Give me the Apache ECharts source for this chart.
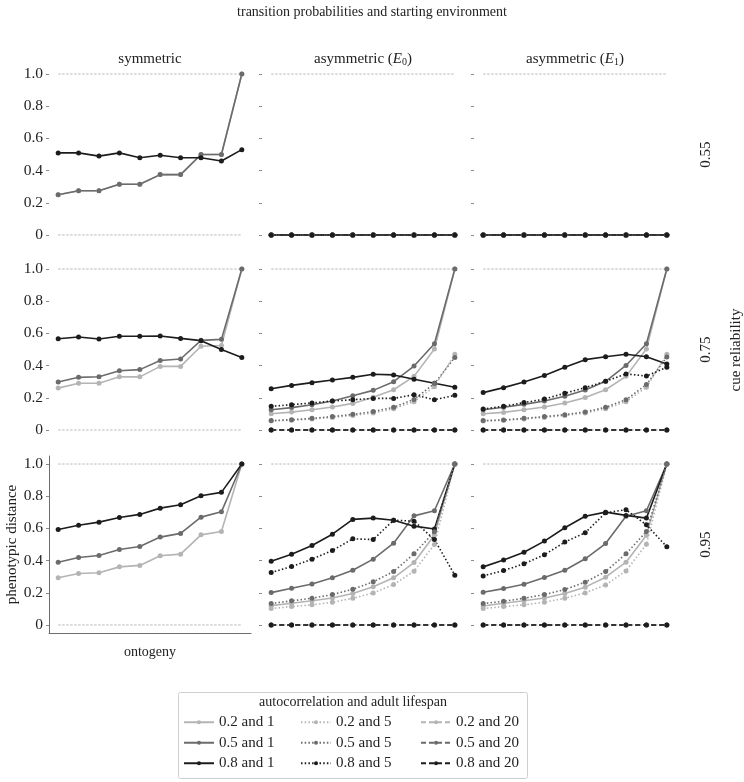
<!DOCTYPE html>
<html><head><meta charset="utf-8">
<script src="https://cdn.jsdelivr.net/npm/echarts@6/dist/echarts.min.js"></script>
<style>html,body{margin:0;padding:0;background:#fff}#c{width:744px;height:782px}</style>
</head><body><div id="c"></div>
<script>
// ---------- data ----------
const ontogeny = [1, 2, 3, 4, 5, 6, 7, 8, 9, 10];
const yTicks = [0, 0.2, 0.4, 0.6, 0.8, 1.0];
const refLevels = [0, 1];
const cueReliability = ['0.55', '0.75', '0.95'];
const autocorrelation = ['0.2', '0.5', '0.8'];
const lifespan = ['1', '5', '20'];
const zeros = [0, 0, 0, 0, 0, 0, 0, 0, 0, 0];

// symmetric
const sym55_a02_l1 = [0.25, 0.275, 0.275, 0.315, 0.315, 0.375, 0.375, 0.50, 0.50, 1.0];
const sym55_a05_l1 = [0.25, 0.275, 0.275, 0.315, 0.315, 0.375, 0.375, 0.50, 0.50, 1.0];
const sym55_a08_l1 = [0.51, 0.51, 0.49, 0.51, 0.48, 0.495, 0.48, 0.48, 0.46, 0.53];
const sym75_a02_l1 = [0.26, 0.29, 0.29, 0.33, 0.33, 0.395, 0.395, 0.52, 0.525, 1.0];
const sym75_a05_l1 = [0.298, 0.327, 0.331, 0.368, 0.375, 0.432, 0.441, 0.557, 0.563, 1.0];
const sym75_a08_l1 = [0.567, 0.578, 0.565, 0.582, 0.582, 0.584, 0.569, 0.555, 0.50, 0.45];
const sym95_a02_l1 = [0.293, 0.32, 0.324, 0.361, 0.37, 0.43, 0.44, 0.56, 0.581, 1.0];
const sym95_a05_l1 = [0.39, 0.419, 0.432, 0.469, 0.488, 0.546, 0.569, 0.67, 0.703, 1.0];
const sym95_a08_l1 = [0.593, 0.62, 0.639, 0.668, 0.687, 0.726, 0.747, 0.803, 0.824, 1.0];

// asymmetric (E0)
const e0_75_a02_l1 = [0.101, 0.111, 0.126, 0.143, 0.165, 0.203, 0.25, 0.333, 0.503, 1.0];
const e0_75_a05_l1 = [0.126, 0.139, 0.157, 0.18, 0.213, 0.246, 0.30, 0.397, 0.536, 1.0];
const e0_75_a08_l1 = [0.256, 0.277, 0.294, 0.31, 0.327, 0.346, 0.342, 0.315, 0.29, 0.265];
const e0_75_a02_l5 = [0.056, 0.06, 0.068, 0.078, 0.09, 0.105, 0.132, 0.176, 0.269, 0.47];
const e0_75_a05_l5 = [0.058, 0.064, 0.072, 0.083, 0.097, 0.114, 0.141, 0.19, 0.288, 0.451];
const e0_75_a08_l5 = [0.147, 0.157, 0.168, 0.18, 0.188, 0.196, 0.196, 0.219, 0.188, 0.215];
const e0_95_a02_l1 = [0.12, 0.135, 0.15, 0.168, 0.195, 0.237, 0.293, 0.388, 0.558, 1.0];
const e0_95_a05_l1 = [0.201, 0.228, 0.255, 0.293, 0.34, 0.409, 0.508, 0.678, 0.71, 1.0];
const e0_95_a08_l1 = [0.396, 0.44, 0.494, 0.564, 0.656, 0.664, 0.651, 0.614, 0.596, 1.0];
const e0_95_a02_l5 = [0.102, 0.114, 0.125, 0.141, 0.166, 0.199, 0.251, 0.334, 0.50, 1.0];
const e0_95_a05_l5 = [0.133, 0.15, 0.166, 0.189, 0.222, 0.268, 0.332, 0.442, 0.579, 1.0];
const e0_95_a08_l5 = [0.326, 0.363, 0.409, 0.463, 0.535, 0.531, 0.651, 0.645, 0.531, 0.309];

// asymmetric (E1)
const e1_75_a02_l1 = [0.101, 0.109, 0.126, 0.143, 0.168, 0.201, 0.25, 0.333, 0.503, 1.0];
const e1_75_a05_l1 = [0.126, 0.141, 0.159, 0.18, 0.209, 0.248, 0.302, 0.401, 0.536, 1.0];
const e1_75_a08_l1 = [0.232, 0.263, 0.298, 0.339, 0.389, 0.437, 0.455, 0.47, 0.455, 0.41];
const e1_75_a02_l5 = [0.056, 0.06, 0.068, 0.078, 0.09, 0.105, 0.132, 0.176, 0.265, 0.47];
const e1_75_a05_l5 = [0.058, 0.062, 0.072, 0.083, 0.095, 0.112, 0.141, 0.188, 0.282, 0.453];
const e1_75_a08_l5 = [0.130, 0.147, 0.170, 0.192, 0.228, 0.263, 0.302, 0.348, 0.335, 0.39];
const e1_95_a02_l1 = [0.118, 0.135, 0.15, 0.168, 0.195, 0.235, 0.297, 0.39, 0.558, 1.0];
const e1_95_a05_l1 = [0.203, 0.226, 0.253, 0.295, 0.34, 0.411, 0.506, 0.676, 0.71, 1.0];
const e1_95_a08_l1 = [0.361, 0.403, 0.452, 0.521, 0.604, 0.676, 0.701, 0.681, 0.664, 1.0];
const e1_95_a02_l5 = [0.102, 0.114, 0.125, 0.141, 0.166, 0.199, 0.249, 0.336, 0.502, 1.0];
const e1_95_a05_l5 = [0.133, 0.147, 0.166, 0.189, 0.22, 0.266, 0.332, 0.442, 0.581, 1.0];
const e1_95_a08_l5 = [0.305, 0.338, 0.38, 0.436, 0.515, 0.573, 0.697, 0.716, 0.622, 0.486];

// panels[row][col] = { lifespan: [a0.2, a0.5, a0.8] }
const panels = [
  [
    { '1': [sym55_a02_l1, sym55_a05_l1, sym55_a08_l1] },
    { '1': [zeros, zeros, zeros], '5': [zeros, zeros, zeros], '20': [zeros, zeros, zeros] },
    { '1': [zeros, zeros, zeros], '5': [zeros, zeros, zeros], '20': [zeros, zeros, zeros] }
  ],
  [
    { '1': [sym75_a02_l1, sym75_a05_l1, sym75_a08_l1] },
    { '1': [e0_75_a02_l1, e0_75_a05_l1, e0_75_a08_l1], '5': [e0_75_a02_l5, e0_75_a05_l5, e0_75_a08_l5], '20': [zeros, zeros, zeros] },
    { '1': [e1_75_a02_l1, e1_75_a05_l1, e1_75_a08_l1], '5': [e1_75_a02_l5, e1_75_a05_l5, e1_75_a08_l5], '20': [zeros, zeros, zeros] }
  ],
  [
    { '1': [sym95_a02_l1, sym95_a05_l1, sym95_a08_l1] },
    { '1': [e0_95_a02_l1, e0_95_a05_l1, e0_95_a08_l1], '5': [e0_95_a02_l5, e0_95_a05_l5, e0_95_a08_l5], '20': [zeros, zeros, zeros] },
    { '1': [e1_95_a02_l1, e1_95_a05_l1, e1_95_a08_l1], '5': [e1_95_a02_l5, e1_95_a05_l5, e1_95_a08_l5], '20': [zeros, zeros, zeros] }
  ]
];

// ---------- style ----------
const FONT = '"Liberation Serif", "DejaVu Serif", serif';
const TXT = '#222';
const colors = { '0.2': '#b4b4b4', '0.5': '#6b6b6b', '0.8': '#1c1c1c' };
const dashes = { '1': 'solid', '5': [1.5, 2.2], '20': [5, 3] };
const gridLeft = [49, 262, 474], gridTop = [66, 261, 456], GW = 202, GH = 177;

const grids = [], xAxes = [], yAxes = [], series = [];
for (let r = 0; r < 3; r++) {
  for (let c = 0; c < 3; c++) {
    const idx = r * 3 + c;
    const framed = (r === 2 && c === 0);
    grids.push({ left: gridLeft[c], top: gridTop[r], width: GW, height: GH });
    xAxes.push({
      type: 'value', gridIndex: idx, min: 0.55, max: 10.45,
      axisLine: { show: framed, onZero: false, lineStyle: { color: '#6e6e6e', width: 1 } },
      axisTick: { show: false }, axisLabel: { show: false }, splitLine: { show: false }
    });
    yAxes.push({
      type: 'value', gridIndex: idx, min: -0.05, max: 1.05,
      axisLine: { show: framed, onZero: false, lineStyle: { color: '#6e6e6e', width: 1 } },
      axisTick: { show: true, length: 3, customValues: yTicks, lineStyle: { color: '#8a8a8a' } },
      axisLabel: {
        show: c === 0, customValues: yTicks, margin: 6,
        fontFamily: FONT, fontSize: 15.5, color: TXT,
        formatter: v => (v === 0 ? '0' : v.toFixed(1))
      },
      splitLine: { show: false }
    });
    refLevels.forEach(lv => {
      series.push({
        type: 'line', name: 'ref', xAxisIndex: idx, yAxisIndex: idx, silent: true,
        symbol: 'none', data: [[ontogeny[0], lv], [ontogeny[ontogeny.length - 1], lv]],
        lineStyle: { color: '#a8a8a8', width: 0.8, type: [2.5, 1.5] }, z: 1
      });
    });
    const p = panels[r][c];
    lifespan.forEach(ls => {
      if (!p[ls]) return;
      autocorrelation.forEach((ac, k) => {
        const vals = p[ls][k];
        series.push({
          type: 'line', name: ac + ' and ' + ls, xAxisIndex: idx, yAxisIndex: idx,
          data: ontogeny.map((x, i) => [x, vals[i]]),
          symbol: 'circle', symbolSize: 5, showSymbol: true,
          itemStyle: { color: colors[ac] },
          lineStyle: { color: colors[ac], width: 1.6, type: dashes[ls] },
          z: 2
        });
      });
    });
  }
}

const legendLeft = [183, 300, 420];
const legends = lifespan.map((ls, k) => ({
  orient: 'vertical', left: legendLeft[k], top: 714, padding: 0,
  data: autocorrelation.map(ac => ac + ' and ' + ls),
  itemWidth: 30, itemHeight: 5, itemGap: 4, selectedMode: false,
  textStyle: { fontFamily: FONT, fontSize: 15, color: TXT, lineHeight: 16.5 }
}));

function txt(text, x, y, size, rot, rich) {
  return {
    type: 'text', x: x, y: y, rotation: rot || 0, silent: true,
    style: { text: text, fontFamily: FONT, fontSize: size, fill: TXT, align: 'center', verticalAlign: 'middle', rich: rich }
  };
}
const richSub = {
  e: { fontFamily: FONT, fontSize: 15, fontStyle: 'italic', fill: TXT },
  s: { fontFamily: FONT, fontSize: 10, fill: TXT, padding: [7, 0, 0, 0] }
};
const colTitles = ['symmetric', 'asymmetric ({e|E}{s|0})', 'asymmetric ({e|E}{s|1})'];

const graphic = [
  txt('transition probabilities and starting environment', 372, 12, 14),
  ...colTitles.map((t, c) => txt(t, gridLeft[c] + GW / 2, 59, 15, 0, richSub)),
  ...cueReliability.map((t, r) => txt(t, 706, gridTop[r] + GH / 2, 15, Math.PI / 2)),
  txt('cue reliability', 736, 350, 15, Math.PI / 2),
  txt('phenotypic distance', 12, gridTop[2] + GH / 2, 15, Math.PI / 2),
  txt('ontogeny', gridLeft[0] + GW / 2, 652, 14),
  { type: 'rect', shape: { x: 178.5, y: 692.5, width: 349, height: 86, r: 2 }, silent: true,
    style: { fill: 'none', stroke: '#cfcfcf', lineWidth: 1 } },
  txt('autocorrelation and adult lifespan', 353, 702, 14)
];

const chart = echarts.init(document.getElementById('c'), null, { renderer: 'canvas' });
chart.setOption({
  animation: false,
  backgroundColor: '#fff',
  grid: grids, xAxis: xAxes, yAxis: yAxes, series: series,
  legend: legends, graphic: graphic
});
</script>
</body></html>
